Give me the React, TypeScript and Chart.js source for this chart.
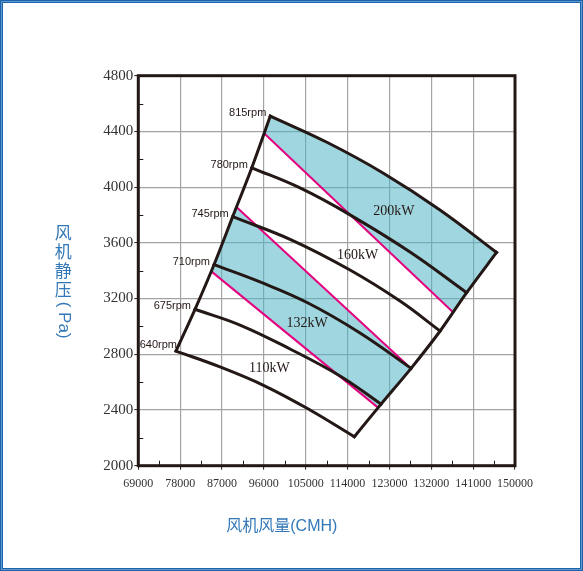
import React, { useEffect, useRef } from "react";
import { Chart, registerables } from "chart.js";

Chart.register(...registerables);

type Pt = { x: number; y: number };

// Axis ticks: airflow (CMH) and static pressure (Pa)
const xTicks = [69000, 78000, 87000, 96000, 105000, 114000, 123000, 132000, 141000, 150000];
const yTicks = [2000, 2400, 2800, 3200, 3600, 4000, 4400, 4800];

// Fan speed curves, airflow vs. static pressure
const rpmLabels = ["640rpm", "675rpm", "710rpm", "745rpm", "780rpm", "815rpm"];
const rpm640: Pt[] = [
  { x: 77107, y: 2823 }, { x: 86569, y: 2709 }, { x: 96247, y: 2572 }, { x: 105924, y: 2400 }, { x: 115450, y: 2208 },
];
const rpm675: Pt[] = [
  { x: 81193, y: 3123 }, { x: 90871, y: 3010 }, { x: 101623, y: 2838 }, { x: 112376, y: 2644 }, { x: 121200, y: 2442 },
];
const rpm710: Pt[] = [
  { x: 85279, y: 3443 }, { x: 95171, y: 3319 }, { x: 105494, y: 3168 }, { x: 116677, y: 2953 }, { x: 127650, y: 2699 },
];
const rpm745: Pt[] = [
  { x: 89301, y: 3788 }, { x: 101988, y: 3620 }, { x: 114526, y: 3405 }, { x: 125279, y: 3182 }, { x: 133900, y: 2967 },
];
const rpm780: Pt[] = [
  { x: 93408, y: 4139 }, { x: 103774, y: 3994 }, { x: 114526, y: 3801 }, { x: 127429, y: 3534 }, { x: 139600, y: 3242 },
];
const rpm815: Pt[] = [
  { x: 97387, y: 4510 }, { x: 109550, y: 4322 }, { x: 121700, y: 4100 }, { x: 133870, y: 3836 }, { x: 146030, y: 3531 },
];
const rpmCurves = [rpm640, rpm675, rpm710, rpm745, rpm780, rpm815];

// Motor power limit lines
const power200: Pt[] = [{ x: 96100, y: 4385 }, { x: 136676, y: 3101 }];
const power160: Pt[] = [{ x: 90100, y: 3858 }, { x: 126891, y: 2721 }];
const power132: Pt[] = [{ x: 84700, y: 3395 }, { x: 120612, y: 2415 }];

// Power zone labels
const kwLabels = ["200kW", "160kW", "132kW", "110kW"];
const kwX = [123945, 116139, 105279, 97172];
const kwY = [3823, 3513, 3019, 2699];

const BLACK = "#231815";
const PINK = "#e4007f";
const CYAN = "rgba(82,180,197,0.55)";
const TITLE_BLUE = "#3277b8";
const FRAME_DARK = "#1f62a8";
const FRAME_LIGHT = "#5b9ad4";

const first = (c: Pt[]) => c[0];
const last = (c: Pt[]) => c[c.length - 1];

// System lines joining the ends of the speed curves
const leftEdge = rpmCurves.map(first);
const rightEdge = rpmCurves.map(last);

// Shaded zones
const upperZone: Pt[] = [...rpm815, last(rpm780), power200[1], power200[0]];
const lowerZone: Pt[] = [
  power160[0], power160[1], last(rpm710), last(rpm675), power132[1], power132[0], first(rpm710), first(rpm745),
];

const decor = {
  id: "decor",
  beforeDraw(chart: any) {
    const { ctx, width, height } = chart;
    ctx.save();
    ctx.fillStyle = "#fff";
    ctx.fillRect(0, 0, width, height);
    ctx.restore();
  },
  afterDraw(chart: any) {
    const { ctx, chartArea: a, width, height } = chart;
    const x = chart.scales.x;
    const y = chart.scales.y;
    ctx.save();

    // minor inward ticks
    ctx.strokeStyle = BLACK;
    ctx.lineWidth = 1;
    for (let i = 0; i < xTicks.length - 1; i++) {
      const px = Math.round(x.getPixelForValue((xTicks[i] + xTicks[i + 1]) / 2)) + 0.5;
      ctx.beginPath();
      ctx.moveTo(px, a.bottom);
      ctx.lineTo(px, a.bottom - 5);
      ctx.stroke();
    }
    for (let i = 0; i < yTicks.length - 1; i++) {
      const py = Math.round(y.getPixelForValue((yTicks[i] + yTicks[i + 1]) / 2)) + 0.5;
      ctx.beginPath();
      ctx.moveTo(a.left, py);
      ctx.lineTo(a.left + 5, py);
      ctx.stroke();
    }

    // plot frame
    ctx.lineWidth = 3;
    ctx.strokeRect(a.left, a.top, a.right - a.left, a.bottom - a.top);

    // speed labels at the start of each curve
    ctx.fillStyle = BLACK;
    ctx.font = '11px "Liberation Sans", Arial, sans-serif';
    ctx.textAlign = "right";
    ctx.textBaseline = "middle";
    rpmCurves.forEach((c, i) => {
      const px = x.getPixelForValue(c[0].x);
      const py = y.getPixelForValue(c[0].y);
      if (i === 0) ctx.fillText(rpmLabels[i], px + 1, py - 6);
      else ctx.fillText(rpmLabels[i], px - 4, py - 3);
    });

    // power labels
    ctx.font = '14px "Liberation Serif", serif';
    ctx.textAlign = "center";
    kwLabels.forEach((t, i) => {
      ctx.fillText(t, x.getPixelForValue(kwX[i]), y.getPixelForValue(kwY[i]));
    });

    // axis titles
    ctx.fillStyle = TITLE_BLUE;
    ctx.font = '16px "Liberation Sans", "Noto Sans CJK SC", sans-serif';
    ctx.textAlign = "center";
    ctx.textBaseline = "middle";
    ctx.fillText("风机风量(CMH)", a.left + (a.right - a.left) * 0.381, a.bottom + 61);

    const tx = a.left - 75;
    const ty = a.top + 157;
    ctx.font = '17px "Noto Sans CJK SC", sans-serif';
    ["风", "机", "静", "压"].forEach((ch, i) => ctx.fillText(ch, tx, ty + i * 19));
    ctx.save();
    ctx.translate(tx, ty + 3 * 19 + 12);
    ctx.rotate(Math.PI / 2);
    ctx.textAlign = "left";
    ctx.font = '17px "Liberation Sans", sans-serif';
    ctx.fillText("( Pa)", 0, 0);
    ctx.restore();

    // outer frame
    ctx.lineWidth = 1;
    ctx.strokeStyle = FRAME_DARK;
    ctx.strokeRect(0.5, 0.5, width - 1, height - 1);
    ctx.strokeStyle = FRAME_LIGHT;
    ctx.strokeRect(1.5, 1.5, width - 3, height - 3);
    ctx.strokeStyle = FRAME_DARK;
    ctx.strokeRect(2.5, 2.5, width - 5, height - 5);

    ctx.restore();
  },
};

const curveStyle = {
  showLine: true,
  borderColor: BLACK,
  borderWidth: 3,
  pointRadius: 0,
  tension: 0.4,
  fill: false,
  borderCapStyle: "square",
  order: 1,
};

const pinkStyle = {
  showLine: true,
  borderColor: PINK,
  borderWidth: 2,
  pointRadius: 0,
  tension: 0,
  fill: false,
  order: 2,
};

const zoneStyle = {
  showLine: true,
  borderWidth: 0,
  borderColor: "rgba(0,0,0,0)",
  backgroundColor: CYAN,
  pointRadius: 0,
  tension: 0,
  fill: "shape",
  order: 3,
};

export default function App() {
  const canvasRef = useRef<HTMLCanvasElement | null>(null);

  useEffect(() => {
    document.body.style.margin = "0";
    const canvas = canvasRef.current;
    if (!canvas) return;

    const chart = new Chart(canvas, {
      type: "scatter",
      data: {
        datasets: [
          { ...zoneStyle, data: upperZone },
          { ...zoneStyle, data: lowerZone },
          { ...pinkStyle, data: power200 },
          { ...pinkStyle, data: power160 },
          { ...pinkStyle, data: power132 },
          ...rpmCurves.map((c) => ({ ...curveStyle, data: c })),
          { ...curveStyle, tension: 0.3, data: leftEdge },
          { ...curveStyle, tension: 0.3, data: rightEdge },
        ] as any,
      },
      options: {
        animation: false,
        responsive: false,
        devicePixelRatio: 1,
        events: [],
        layout: { padding: { left: 0, right: 68, top: 75.7, bottom: 0 } },
        plugins: {
          legend: { display: false },
          tooltip: { enabled: false },
          title: { display: false },
        },
        scales: {
          x: {
            type: "linear",
            min: xTicks[0],
            max: xTicks[xTicks.length - 1],
            afterBuildTicks: (s: any) => {
              s.ticks = xTicks.map((v) => ({ value: v }));
            },
            afterFit: (s: any) => {
              s.height = 105.3;
            },
            border: { display: false },
            grid: {
              color: "#a3a3a3",
              lineWidth: 1.2,
              drawTicks: true,
              tickLength: 4,
              tickColor: BLACK,
              tickWidth: 1,
            },
            ticks: {
              color: "#333",
              padding: 7,
              maxRotation: 0,
              autoSkip: false,
              font: { family: '"Liberation Serif", serif', size: 12 },
              callback: (v: any) => String(v),
            },
          },
          y: {
            type: "linear",
            min: yTicks[0],
            max: yTicks[yTicks.length - 1],
            afterBuildTicks: (s: any) => {
              s.ticks = yTicks.map((v) => ({ value: v }));
            },
            afterFit: (s: any) => {
              s.width = 138.3;
            },
            border: { display: false },
            grid: {
              color: "#a3a3a3",
              lineWidth: 1.2,
              drawTicks: true,
              tickLength: 4,
              tickColor: BLACK,
              tickWidth: 1,
            },
            ticks: {
              color: "#333",
              padding: 1,
              font: { family: '"Liberation Serif", serif', size: 15 },
              callback: (v: any) => String(v),
            },
          },
        },
      } as any,
      plugins: [decor],
    });

    return () => chart.destroy();
  }, []);

  return (
    <div style={{ width: 583, height: 571, position: "relative" }}>
      <canvas ref={canvasRef} width={583} height={571} style={{ display: "block" }} />
    </div>
  );
}
